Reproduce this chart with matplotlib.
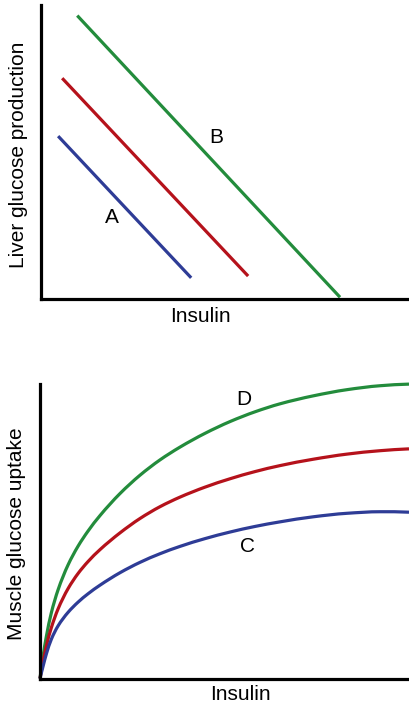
import matplotlib
matplotlib.use("Agg")
import matplotlib.pyplot as plt
import numpy as np
from matplotlib.path import Path
from matplotlib.patches import PathPatch

plt.rcParams['font.family'] = ['Liberation Sans', 'DejaVu Sans']

# Top panel: liver glucose production vs insulin (straight lines, 0-100 units)
liver_blue_x = [4.8, 41.0]
liver_blue_y = [55.4, 7.2]
liver_red_x = [5.9, 56.5]
liver_red_y = [75.1, 7.8]
liver_green_x = [10.0, 81.5]
liver_green_y = [96.4, 0.6]

# Bottom panel: muscle glucose uptake vs insulin (0-100 units)
musc_x = [0, 0.81, 1.71, 3.06, 4.88, 7.59, 10.30, 13.01, 16.26, 21.68, 27.10,
          32.52, 37.94, 44.72, 51.49, 58.27, 65.04, 74.07, 83.12, 92.14, 100]
musc_green_y = [0, 7.40, 14.19, 22.24, 30.05, 38.53, 44.90, 50.05, 55.32, 62.80, 69.03,
                74.23, 78.57, 83.25, 87.24, 90.56, 93.27, 95.98, 98.06, 99.41, 99.96]
musc_red_y = [0, 5.59, 10.99, 17.20, 23.57, 30.48, 35.63, 39.70, 43.76, 49.45, 54.33,
              58.34, 61.59, 64.98, 67.82, 70.26, 72.29, 74.46, 76.18, 77.35, 77.98]
musc_blue_y = [0, 4.05, 8.28, 13.28, 17.83, 22.44, 25.91, 28.76, 31.69, 35.92, 39.44,
               42.37, 44.86, 47.50, 49.73, 51.63, 53.19, 54.91, 56.09, 56.63, 56.47]

GREEN = '#238C3C'
RED = '#B5121B'
BLUE = '#2E3C96'
LW = 2.3
FS = 15


def pchip_slopes(x, y):
    x = np.asarray(x, float)
    y = np.asarray(y, float)
    h = np.diff(x)
    d = np.diff(y) / h
    n = len(x)
    m = np.zeros(n)
    for k in range(1, n - 1):
        if d[k - 1] * d[k] <= 0:
            m[k] = 0.0
        else:
            w1 = 2 * h[k] + h[k - 1]
            w2 = h[k] + 2 * h[k - 1]
            m[k] = (w1 + w2) / (w1 / d[k - 1] + w2 / d[k])

    def end(h0, h1, d0, d1):
        s = ((2 * h0 + h1) * d0 - h0 * d1) / (h0 + h1)
        if np.sign(s) != np.sign(d0):
            s = 0.0
        elif np.sign(d0) != np.sign(d1) and abs(s) > abs(3 * d0):
            s = 3 * d0
        return s

    m[0] = end(h[0], h[1], d[0], d[1])
    m[-1] = end(h[-1], h[-2], d[-1], d[-2])
    return m


def smooth_curve(ax, x, y, color):
    """Draw a smooth (monotone cubic Hermite) curve through the read points."""
    x = np.asarray(x, float)
    y = np.asarray(y, float)
    m = pchip_slopes(x, y)
    verts = [(x[0], y[0])]
    codes = [Path.MOVETO]
    for i in range(len(x) - 1):
        h = x[i + 1] - x[i]
        verts += [(x[i] + h / 3, y[i] + m[i] * h / 3),
                  (x[i + 1] - h / 3, y[i + 1] - m[i + 1] * h / 3),
                  (x[i + 1], y[i + 1])]
        codes += [Path.CURVE4] * 3
    patch = PathPatch(Path(verts, codes), facecolor='none', edgecolor=color,
                      lw=LW, capstyle='butt', joinstyle='round', clip_on=False,
                      transform=ax.transData)
    ax.add_patch(patch)


fig = plt.figure(figsize=(4.09, 7.07), dpi=100)
W, H = 409, 707

def add_ax(left, top, right, bottom):
    return fig.add_axes([left / W, 1 - bottom / H, (right - left) / W, (bottom - top) / H])

ax1 = add_ax(40.5, 5, 408, 299)
ax2 = add_ax(40, 384, 409, 678.5)

for ax in (ax1, ax2):
    ax.set_xlim(0, 100)
    ax.set_ylim(0, 100)
    ax.set_xticks([])
    ax.set_yticks([])
    ax.spines['top'].set_visible(False)
    ax.spines['right'].set_visible(False)
    for s in ('left', 'bottom'):
        ax.spines[s].set_linewidth(2.3)
        ax.spines[s].set_color('black')
        ax.spines[s].set_capstyle('projecting')
    ax.patch.set_alpha(0)

ax1.plot(liver_blue_x, liver_blue_y, color=BLUE, lw=LW, solid_capstyle='butt')
ax1.plot(liver_red_x, liver_red_y, color=RED, lw=LW, solid_capstyle='butt')
ax1.plot(liver_green_x, liver_green_y, color=GREEN, lw=LW, solid_capstyle='butt')
ax1.text(19.4, 27.6, 'A', fontsize=FS, ha='center', va='center')
ax1.text(47.8, 55.1, 'B', fontsize=FS, ha='center', va='center')

smooth_curve(ax2, musc_x, musc_green_y, GREEN)
smooth_curve(ax2, musc_x, musc_red_y, RED)
smooth_curve(ax2, musc_x, musc_blue_y, BLUE)
ax2.text(55.3, 94.6, 'D', fontsize=FS, ha='center', va='center')
ax2.text(56.2, 44.8, 'C', fontsize=FS, ha='center', va='center')

fig.text(200.7 / W, 1 - 316 / H, 'Insulin', fontsize=FS, ha='center', va='center')
fig.text(240.7 / W, 1 - 695 / H, 'Insulin', fontsize=FS, ha='center', va='center')
fig.text(18.3 / W, 1 - 155 / H, 'Liver glucose production', fontsize=FS, ha='center', va='center', rotation=90)
fig.text(16.7 / W, 1 - 534 / H, 'Muscle glucose uptake', fontsize=FS, ha='center', va='center', rotation=90)

fig.savefig('out.png', dpi=100)
